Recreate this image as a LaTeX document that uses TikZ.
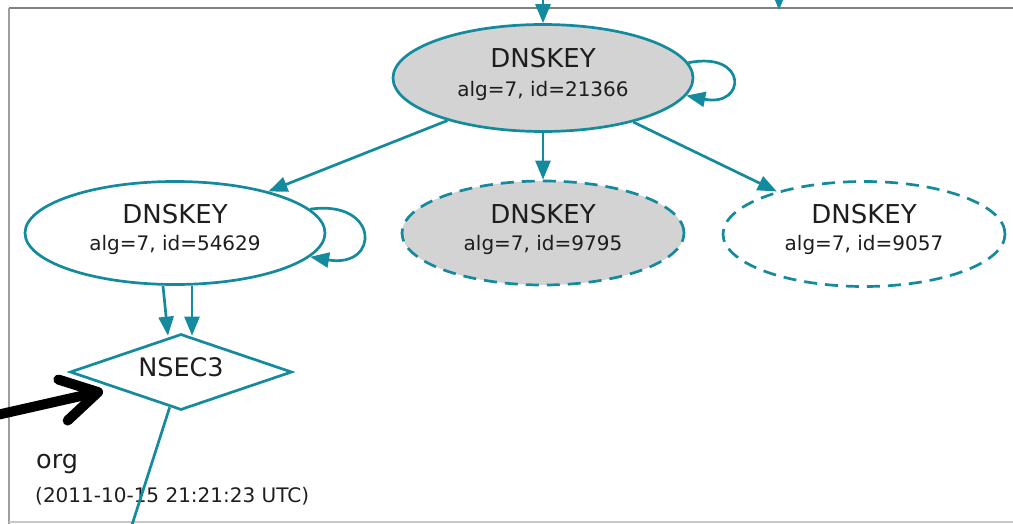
\documentclass[tikz,border=0pt]{standalone}
\usepackage{fontspec}
\setmainfont{DejaVu Sans}
\usetikzlibrary{shapes.geometric,arrows.meta}
\definecolor{tealx}{RGB}{20,138,158}
\definecolor{ink}{RGB}{30,30,30}
\definecolor{keyfill}{RGB}{211,211,211}
\begin{document}
\begin{tikzpicture}[x=1pt,y=-1pt,
  keybox/.style={ellipse,draw=tealx,line width=2.7pt,inner sep=0pt},
  dashkey/.style={keybox,dash pattern=on 13pt off 8pt},
  bigtxt/.style={anchor=base,text=ink,font=\fontsize{26}{30}\selectfont,inner sep=0pt},
  smalltxt/.style={anchor=base,text=ink,font=\fontsize{20}{24}\selectfont,inner sep=0pt},
  edge/.style={draw=tealx,line width=2.7pt,-{Triangle[length=19pt,width=15pt]}},
  plainedge/.style={draw=tealx,line width=2.7pt},
  frame/.style={line width=2pt}]
\useasboundingbox (0,0) rectangle (1013,524);
% frame
\draw[frame,draw=black!50] (1020,8) -- (9,8);
\draw[frame,draw=black!38] (9,8) -- (9,530);
\draw[frame,draw=black!22] (9,522) -- (1020,522);
% key nodes
\node[keybox,fill=keyfill,minimum width=300pt,minimum height=107pt] (k1) at (543,78) {};
\node[keybox,minimum width=300pt,minimum height=103pt] (k2) at (175,233) {};
\node[dashkey,fill=keyfill,minimum width=282pt,minimum height=104pt] (k3) at (543,233) {};
\node[dashkey,minimum width=282pt,minimum height=105pt] (k4) at (864,234) {};
\node[bigtxt] (k1a) at (543,68) {DNSKEY};
\node[smalltxt] (k1b) at (543,97) {alg=7, id=21366};
\node[bigtxt] (k2a) at (175,223) {DNSKEY};
\node[smalltxt] (k2b) at (175,251) {alg=7, id=54629};
\node[bigtxt] (k3a) at (543,223) {DNSKEY};
\node[smalltxt] (k3b) at (543,251) {alg=7, id=9795};
\node[bigtxt] (k4a) at (864,223) {DNSKEY};
\node[smalltxt] (k4b) at (864,251) {alg=7, id=9057};
% NSEC3
\node[diamond,draw=tealx,line width=2.7pt,inner sep=0pt,minimum width=222pt,minimum height=76pt] (n3) at (181,372) {};
\node[anchor=base,text=ink,font=\fontsize{25.5}{30}\selectfont,inner sep=0pt] (n3t) at (181,376) {NSEC3};
% zone labels
\node[anchor=base west,text=ink,font=\fontsize{25.5}{30}\selectfont,inner sep=0pt] (org) at (36,468) {org};
\node[anchor=base west,text=ink,font=\fontsize{20}{24}\selectfont,inner sep=0pt] (date) at (35,502) {(2011-10-15 21:21:23 UTC)};
% incoming arrows from above
\coordinate (in1) at (543,-2);
\coordinate (in2s) at (779,-8);
\coordinate (in2e) at (779,10);
\draw[edge] (in1) -- (k1);
\draw[edge] (in2s) -- (in2e);
% edges
\draw[edge] (k1.204) -- (k2.24);
\draw[edge] (k1) -- (k3);
\draw[edge] (k1.334) -- (k4.154);
\draw[edge] (k1.6) .. controls +(60,-12) and +(60,12) .. (k1.-7);
\draw[edge] (k2.10.5) .. controls +(70,-10) and +(70,12) .. (k2.-10.5);
\draw[edge] ([xshift=-12pt]k2.south) -- ([xshift=-13pt,yshift=-3pt]n3.north);
\draw[edge] ([xshift=17pt]k2.south) -- ([xshift=11pt,yshift=-3pt]n3.north);
\coordinate (down) at (131,528);
\draw[plainedge] (n3) -- (down);
% black pointer arrow
\coordinate (b0) at (-12,417);
\coordinate (b1) at (103,391);
\draw[line width=10pt,line cap=round,-{Straight Barb[round,length=36pt,width=42pt]}] (b0) -- (b1);
\end{tikzpicture}
\end{document}
